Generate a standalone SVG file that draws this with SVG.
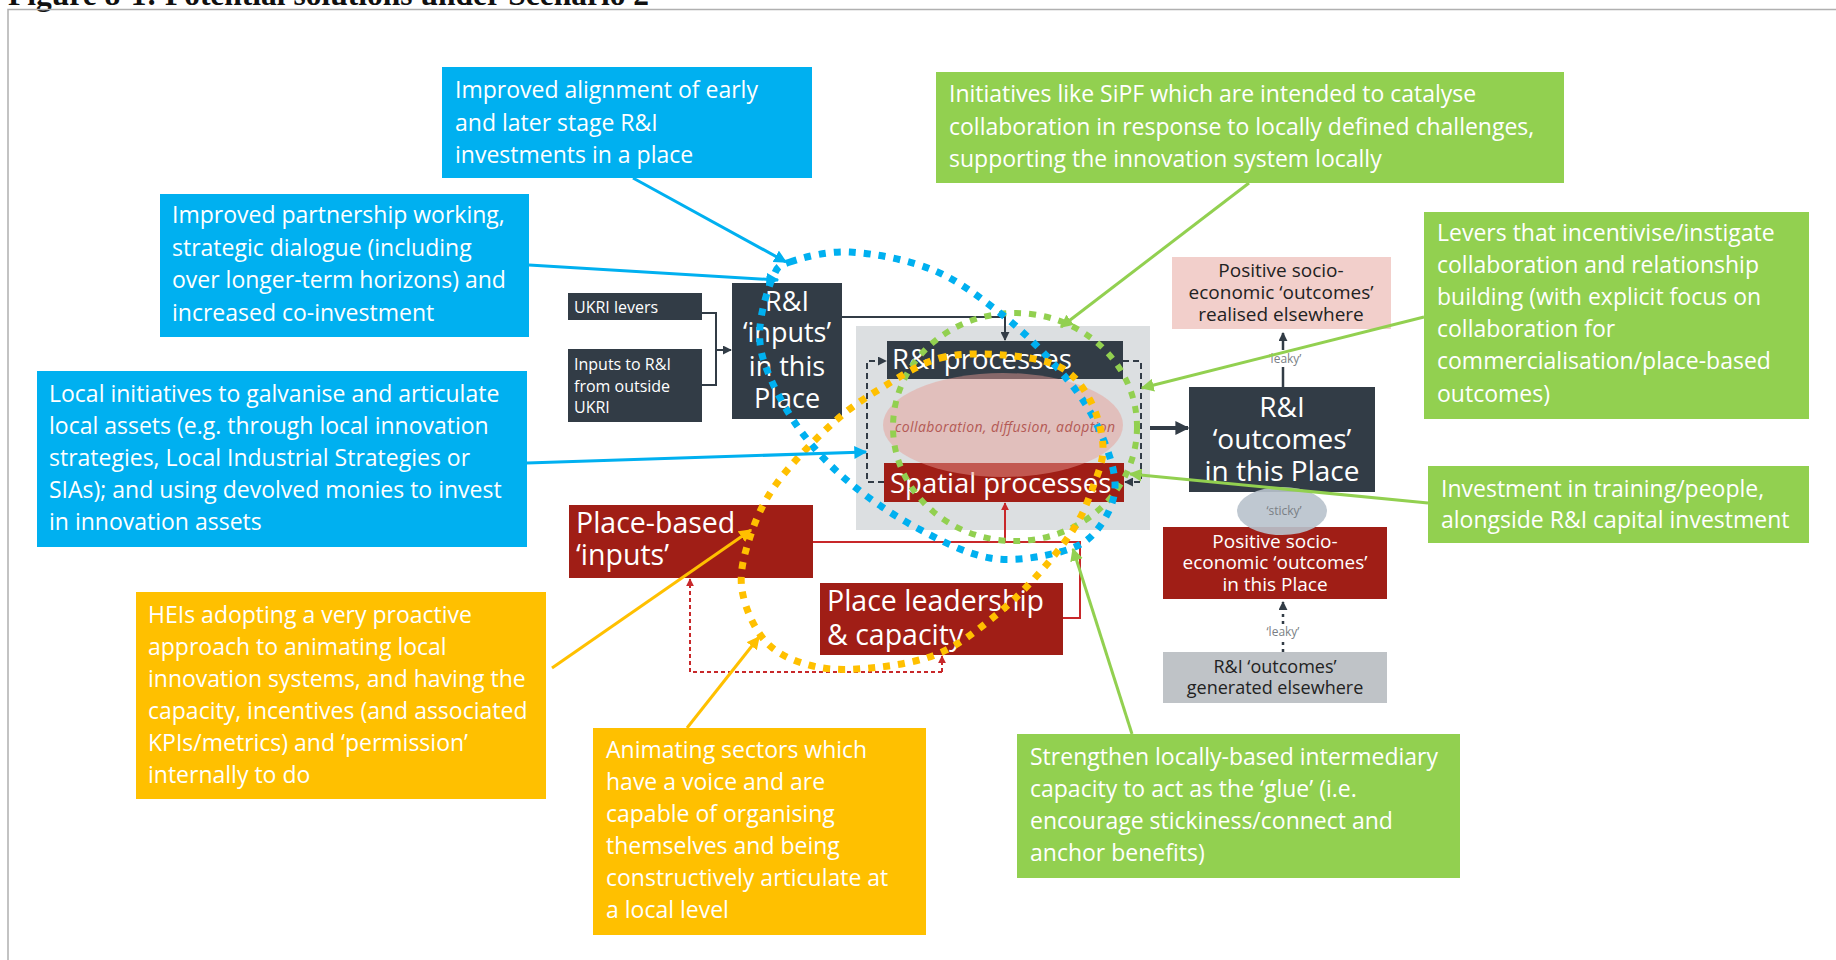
<svg xmlns="http://www.w3.org/2000/svg" width="1836" height="960" viewBox="0 0 1836 960">
  <style>
    .co { font-family: "Open Sans", "Noto Sans", sans-serif; font-size: 23px; fill: #ffffff; }
    .nd { font-family: "Open Sans", "Noto Sans", sans-serif; fill: #ffffff; }
    .ndk { font-family: "Open Sans", "Noto Sans", sans-serif; fill: #222222; }
    .sm { font-family: "Open Sans", "Noto Sans", sans-serif; font-size: 12px; fill: #7a7f85; }
    .dark { fill: #323c46; }
    .red { fill: #a01e16; }
    .blue { fill: #00b0f0; }
    .green { fill: #92d050; }
    .yellow { fill: #ffc000; }
    .ln-dark { stroke: #323c46; stroke-width: 2; fill: none; }
    .ln-red { stroke: #c8282a; stroke-width: 2; fill: none; }
    .ln-blue { stroke: #00b0f0; stroke-width: 3; fill: none; }
    .ln-green { stroke: #92d050; stroke-width: 3; fill: none; }
    .ln-yellow { stroke: #ffc000; stroke-width: 3; fill: none; }
    .loop { fill: none; stroke-dasharray: 7 8; }
  </style>
  <defs>
    <marker id="ah-dark" viewBox="0 0 10 10" refX="9" refY="5" markerWidth="9" markerHeight="9" markerUnits="userSpaceOnUse" orient="auto">
      <path d="M0,0 L10,5 L0,10 z" fill="#323c46"/>
    </marker>
    <marker id="ah-dark-big" viewBox="0 0 10 10" refX="9" refY="5" markerWidth="14" markerHeight="14" markerUnits="userSpaceOnUse" orient="auto">
      <path d="M0,0 L10,5 L0,10 z" fill="#323c46"/>
    </marker>
    <marker id="ah-red" viewBox="0 0 10 10" refX="9" refY="5" markerWidth="8" markerHeight="8" markerUnits="userSpaceOnUse" orient="auto">
      <path d="M0,0 L10,5 L0,10 z" fill="#c8282a"/>
    </marker>
    <marker id="ah-blue" viewBox="0 0 10 10" refX="9" refY="5" markerWidth="13" markerHeight="13" markerUnits="userSpaceOnUse" orient="auto">
      <path d="M0,0 L10,5 L0,10 z" fill="#00b0f0"/>
    </marker>
    <marker id="ah-green" viewBox="0 0 10 10" refX="9" refY="5" markerWidth="13" markerHeight="13" markerUnits="userSpaceOnUse" orient="auto">
      <path d="M0,0 L10,5 L0,10 z" fill="#92d050"/>
    </marker>
    <marker id="ah-yellow" viewBox="0 0 10 10" refX="9" refY="5" markerWidth="13" markerHeight="13" markerUnits="userSpaceOnUse" orient="auto">
      <path d="M0,0 L10,5 L0,10 z" fill="#ffc000"/>
    </marker>
  </defs>

  <rect width="1836" height="960" fill="#ffffff"/>

  <!-- page frame and caption -->
  <g id="frame">
    <text x="8" y="5" font-family="'Liberation Serif', serif" font-weight="bold" font-size="31.5" fill="#111111">Figure 8-1: Potential solutions under Scenario 2</text>
    <rect x="8" y="9.5" width="1860" height="980" fill="none" stroke="#b0b0b0" stroke-width="1.5"/>
  </g>

  <!-- central system panel -->
  <g id="panel">
    <rect x="856" y="326" width="294" height="204" fill="#dcdfe1"/>
  </g>

  <g id="ukri-levers">
    <rect x="568" y="293" width="134" height="27" class="dark"/>
    <text x="574" y="313" class="nd" font-size="16">UKRI levers</text>
  </g>

  <g id="inputs-outside">
    <rect x="568" y="349" width="134" height="73" class="dark"/>
    <text class="nd" font-size="16"><tspan x="574" y="370">Inputs to R&amp;I</tspan><tspan x="574" y="392">from outside</tspan><tspan x="574" y="413">UKRI</tspan></text>
  </g>

  <g id="inputs-place">
    <rect x="732" y="283" width="110" height="136" class="dark"/>
    <text class="nd" font-size="27" text-anchor="middle"><tspan x="787" y="311">R&amp;I</tspan><tspan x="787" y="342">‘inputs’</tspan><tspan x="787" y="376">in this</tspan><tspan x="787" y="408">Place</tspan></text>
  </g>

  <g id="ri-processes">
    <rect x="887" y="341" width="236" height="38" class="dark"/>
    <text x="892" y="369" class="nd" font-size="27.5">R&amp;I processes</text>
  </g>

  <g id="spatial-processes">
    <rect x="884" y="463" width="240" height="39" class="red"/>
    <text x="890" y="493" class="nd" font-size="27.5">Spatial processes</text>
  </g>

  <g id="collaboration">
    <ellipse cx="1003" cy="425" rx="120" ry="52" fill="#e89c93" opacity="0.47"/>
    <text x="895" y="432" font-family="'Open Sans', sans-serif" font-style="italic" font-size="14" fill="#b45a55" textLength="220">collaboration, diffusion, adoption</text>
  </g>

  <g id="place-inputs">
    <rect x="569" y="505" width="244" height="73" class="red"/>
    <text class="nd" font-size="28.5"><tspan x="576" y="533">Place-based</tspan><tspan x="576" y="565">‘inputs’</tspan></text>
  </g>

  <g id="place-leadership">
    <rect x="820" y="583" width="243" height="72" class="red"/>
    <text class="nd" font-size="28.5"><tspan x="827" y="611">Place leadership</tspan><tspan x="827" y="645">&amp; capacity</tspan></text>
  </g>

  <g id="outcomes-elsewhere-realised">
    <rect x="1172" y="257" width="219" height="72" fill="#f2cfcb"/>
    <text class="ndk" font-size="19" text-anchor="middle"><tspan x="1281" y="277">Positive socio-</tspan><tspan x="1281" y="299">economic ‘outcomes’</tspan><tspan x="1281" y="321">realised elsewhere</tspan></text>
  </g>

  <g id="outcomes-place">
    <rect x="1189" y="387" width="186" height="105" class="dark"/>
    <text class="nd" font-size="28" text-anchor="middle"><tspan x="1282" y="417">R&amp;I</tspan><tspan x="1282" y="449">‘outcomes’</tspan><tspan x="1282" y="481">in this Place</tspan></text>
  </g>

  <g id="socio-place">
    <rect x="1163" y="527" width="224" height="72" class="red"/>
    <text class="nd" font-size="19" text-anchor="middle"><tspan x="1275" y="548">Positive socio-</tspan><tspan x="1275" y="569">economic ‘outcomes’</tspan><tspan x="1275" y="591">in this Place</tspan></text>
  </g>

  <g id="sticky">
    <ellipse cx="1282" cy="511" rx="45" ry="24" fill="#b8c2cc" opacity="0.9"/>
    <text x="1284" y="515" class="sm" text-anchor="middle">‘sticky’</text>
  </g>

  <g id="outcomes-elsewhere-generated">
    <rect x="1163" y="652" width="224" height="51" fill="#bfc3c7"/>
    <text class="ndk" font-size="18" text-anchor="middle"><tspan x="1275" y="673">R&amp;I ‘outcomes’</tspan><tspan x="1275" y="694">generated elsewhere</tspan></text>
  </g>

  <!-- connectors between the system nodes -->
  <g id="connectors">
    <path d="M702,313 H716 V385 H702" class="ln-dark"/>
    <path d="M716,350 H731" class="ln-dark" marker-end="url(#ah-dark)"/>
    <path d="M842,317 H1005 V340" class="ln-dark" marker-end="url(#ah-dark)"/>
    <path d="M1123,361 H1141 V482 H1125" class="ln-dark" stroke-dasharray="6 4" marker-end="url(#ah-dark)"/>
    <path d="M884,482 H867 V361 H886" class="ln-dark" stroke-dasharray="6 4" marker-end="url(#ah-dark)"/>
    <path d="M1150,428 H1188" stroke="#323c46" stroke-width="4" fill="none" marker-end="url(#ah-dark-big)"/>
    <path d="M1283,387 V367" stroke="#323c46" stroke-width="2.5" fill="none"/>
    <path d="M1283,350 V333" stroke="#323c46" stroke-width="2.5" fill="none" marker-end="url(#ah-dark)"/>
    <text x="1285" y="363" class="sm" text-anchor="middle">‘leaky’</text>
    <path d="M1283,652 V641" stroke="#323c46" stroke-width="2.5" stroke-dasharray="3 4" fill="none"/>
    <path d="M1283,624 V602" stroke="#323c46" stroke-width="2.5" stroke-dasharray="3 4" fill="none" marker-end="url(#ah-dark)"/>
    <text x="1283" y="636" class="sm" text-anchor="middle">‘leaky’</text>
    <path d="M813,542 H1080 V618 H1063" class="ln-red"/>
    <path d="M1005,542 V503" class="ln-red" marker-end="url(#ah-red)"/>
    <path d="M942,672 H690 V579" class="ln-red" stroke-width="1.5" stroke-dasharray="4 3" marker-end="url(#ah-red)"/>
    <path d="M942,672 V656" class="ln-red" stroke-width="1.5" stroke-dasharray="4 3" marker-end="url(#ah-red)"/>
  </g>

  <!-- dotted loops marking where each family of solutions acts -->
  <g id="loops">
    <ellipse cx="1015" cy="427" rx="122" ry="114" class="loop" stroke="#92d050" stroke-width="6"/>
    <path class="loop" stroke="#00b0f0" stroke-width="7" d="M790,262 C802.8,257.8 826.2,250.7 850,252 C873.8,253.3 908,259.8 933,270 C958,280.2 980,297.5 1000,313 C1020,328.5 1037.5,345.7 1053,363 C1068.5,380.3 1082.7,397 1093,417 C1103.3,437 1114.3,464.2 1115,483 C1115.7,501.8 1106.2,518.5 1097,530 C1087.8,541.5 1077.8,547.3 1060,552 C1042.2,556.7 1013.8,562 990,558 C966.2,554 940.3,540.5 917,528 C893.7,515.5 869.5,499.3 850,483 C830.5,466.7 813.8,448.8 800,430 C786.2,411.2 773.7,387.2 767,370 C760.3,352.8 759,342.5 760,327 C761,311.5 768,287.8 773,277 C778,266.2 777.2,266.2 790,262 Z"/>
    <path class="loop" stroke="#ffc000" stroke-width="7" d="M940,358 C960,352.7 983,353.5 1003,355 C1023,356.5 1045.5,359.5 1060,367 C1074.5,374.5 1082.8,386.7 1090,400 C1097.2,413.3 1102.5,432.5 1103,447 C1103.5,461.5 1098,473.2 1093,487 C1088,500.8 1083,514.5 1073,530 C1063,545.5 1046.8,565 1033,580 C1019.2,595 1005.5,607.8 990,620 C974.5,632.2 958.3,645.2 940,653 C921.7,660.8 900.5,664.7 880,667 C859.5,669.3 835.8,671 817,667 C798.2,663 779.5,655.8 767,643 C754.5,630.2 744.8,607.7 742,590 C739.2,572.3 744.2,554.8 750,537 C755.8,519.2 763.2,502 777,483 C790.8,464 815.3,439 833,423 C850.7,407 865.2,397.8 883,387 C900.8,376.2 920,363.3 940,358 Z"/>
  </g>

  <!-- pointers from each solution box -->
  <g id="callout-connectors">
    <path d="M633,178 L786,262" class="ln-blue" marker-end="url(#ah-blue)"/>
    <path d="M529,265 L778,280" class="ln-blue" marker-end="url(#ah-blue)"/>
    <path d="M527,463 L866,452" class="ln-blue" marker-end="url(#ah-blue)"/>
    <path d="M552,668 L751,530" class="ln-yellow" marker-end="url(#ah-yellow)"/>
    <path d="M687,728 L759,637" class="ln-yellow" marker-end="url(#ah-yellow)"/>
    <path d="M1249,183 L1061,327" class="ln-green" marker-end="url(#ah-green)"/>
    <path d="M1424,317 L1142,388" class="ln-green" marker-end="url(#ah-green)"/>
    <path d="M1428,503 L1130,474" class="ln-green" marker-end="url(#ah-green)"/>
    <path d="M1132,734 L1073,549" class="ln-green" marker-end="url(#ah-green)"/>
  </g>

  <!-- solution boxes -->
  <g id="sol-alignment">
    <rect x="442" y="67" width="370" height="111" class="blue"/>
    <text class="co"><tspan x="455" y="98">Improved alignment of early</tspan><tspan x="455" y="131">and later stage R&amp;I</tspan><tspan x="455" y="163">investments in a place</tspan></text>
  </g>

  <g id="sol-partnership">
    <rect x="160" y="194" width="369" height="143" class="blue"/>
    <text class="co"><tspan x="172" y="223">Improved partnership working,</tspan><tspan x="172" y="256">strategic dialogue (including</tspan><tspan x="172" y="288">over longer-term horizons) and</tspan><tspan x="172" y="321">increased co-investment</tspan></text>
  </g>

  <g id="sol-local-initiatives">
    <rect x="37" y="371" width="490" height="176" class="blue"/>
    <text class="co"><tspan x="49" y="402">Local initiatives to galvanise and articulate</tspan><tspan x="49" y="434">local assets (e.g. through local innovation</tspan><tspan x="49" y="466">strategies, Local Industrial Strategies or</tspan><tspan x="49" y="498">SIAs); and using devolved  monies to invest</tspan><tspan x="49" y="530">in innovation assets</tspan></text>
  </g>

  <g id="sol-heis">
    <rect x="136" y="592" width="410" height="207" class="yellow"/>
    <text class="co"><tspan x="148" y="623">HEIs adopting a very proactive</tspan><tspan x="148" y="655">approach to animating local</tspan><tspan x="148" y="687">innovation systems, and having the</tspan><tspan x="148" y="719">capacity, incentives (and associated</tspan><tspan x="148" y="751">KPIs/metrics) and ‘permission’</tspan><tspan x="148" y="783">internally to do</tspan></text>
  </g>

  <g id="sol-sectors">
    <rect x="593" y="728" width="333" height="207" class="yellow"/>
    <text class="co"><tspan x="606" y="758">Animating sectors which</tspan><tspan x="606" y="790">have a voice and are</tspan><tspan x="606" y="822">capable of organising</tspan><tspan x="606" y="854">themselves and being</tspan><tspan x="606" y="886">constructively articulate at</tspan><tspan x="606" y="918">a local level</tspan></text>
  </g>

  <g id="sol-sipf">
    <rect x="936" y="72" width="628" height="111" class="green"/>
    <text class="co"><tspan x="949" y="102">Initiatives like SiPF which are intended to catalyse</tspan><tspan x="949" y="135">collaboration in response to locally defined challenges,</tspan><tspan x="949" y="167">supporting the innovation system locally</tspan></text>
  </g>

  <g id="sol-levers">
    <rect x="1424" y="212" width="385" height="207" class="green"/>
    <text class="co"><tspan x="1437" y="241">Levers that incentivise/instigate</tspan><tspan x="1437" y="273">collaboration and relationship</tspan><tspan x="1437" y="305">building (with explicit focus on</tspan><tspan x="1437" y="337">collaboration for</tspan><tspan x="1437" y="369">commercialisation/place-based</tspan><tspan x="1437" y="402">outcomes)</tspan></text>
  </g>

  <g id="sol-training">
    <rect x="1428" y="466" width="381" height="77" class="green"/>
    <text class="co"><tspan x="1441" y="497">Investment in training/people,</tspan><tspan x="1441" y="528">alongside R&amp;I capital investment</tspan></text>
  </g>

  <g id="sol-intermediary">
    <rect x="1017" y="734" width="443" height="144" class="green"/>
    <text class="co"><tspan x="1030" y="765">Strengthen locally-based intermediary</tspan><tspan x="1030" y="797">capacity to act as the ‘glue’ (i.e.</tspan><tspan x="1030" y="829">encourage stickiness/connect and</tspan><tspan x="1030" y="861">anchor benefits)</tspan></text>
  </g>
</svg>
